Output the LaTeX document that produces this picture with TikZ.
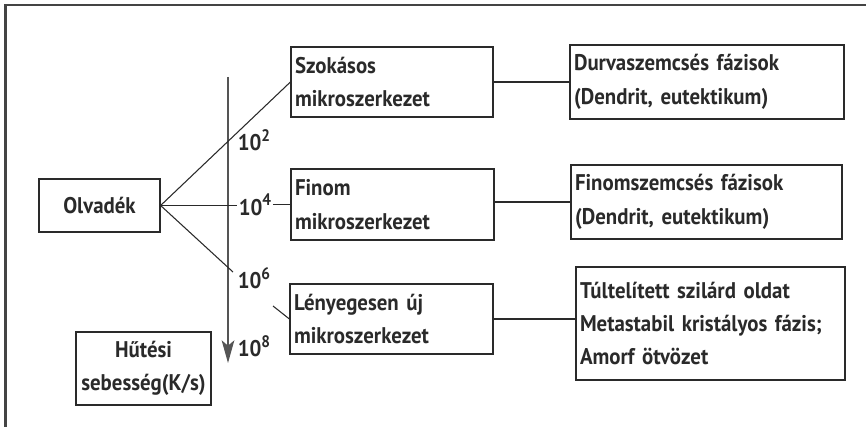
\documentclass[tikz,border=0pt]{standalone}
\usepackage{fontspec}
\setmainfont{PT Sans}[FakeStretch=0.92]
\usetikzlibrary{arrows.meta}
\definecolor{ink}{HTML}{2A2A2A}
\definecolor{axisgray}{HTML}{555555}
\definecolor{framegray}{HTML}{444444}
\newcommand{\expo}[1]{\raisebox{0.42em}{\fontsize{12.5}{12.5}\selectfont #1}}
\tikzset{
  box/.style={draw=ink, line width=0.9pt, rectangle, inner sep=3pt,
    font=\bfseries\fontsize{17}{25}\selectfont, text=ink},
  leftbox/.style={box, align=left},
  midbox/.style={box, align=center},
  rate/.style={inner sep=1pt, font=\bfseries\fontsize{17}{20}\selectfont, text=ink},
  link/.style={draw=ink, line width=0.8pt},
}
\begin{document}
\begin{tikzpicture}[x=0.75pt, y=-0.75pt]
  \useasboundingbox (0,0) rectangle (866,427);

  % page frame: top and left rules only
  \draw[framegray, line width=1.6pt] (5.5,427) -- (5.5,5) -- (866,5);

  % boxes
  \node[midbox, minimum width=90.75pt, minimum height=39.75pt] (olv) at (99.5,205.5) {Olvadék};
  \node[leftbox, minimum width=151.5pt, minimum height=52.5pt, text width=145.5pt] (szok) at (392,82) {Szokásos\\mikroszerkezet};
  \node[leftbox, minimum width=152.25pt, minimum height=53.25pt, text width=146.25pt] (fin) at (392.5,204.5) {Finom\\mikroszerkezet};
  \node[leftbox, minimum width=152.25pt, minimum height=52.5pt, text width=146.25pt] (leny) at (391.5,319) {Lényegesen új\\mikroszerkezet};
  \node[midbox, minimum width=101.25pt, minimum height=54.75pt] (hut) at (143.5,368.5) {Hűtési\\sebesség(K/s)};
  \node[leftbox, minimum width=205.5pt, minimum height=55.5pt, text width=199.5pt] (durva) at (707,82) {Durvaszemcsés fázisok\\(Dendrit, eutektikum)};
  \node[leftbox, minimum width=203.25pt, minimum height=55.5pt, text width=197.25pt] (finsz) at (706.5,202) {Finomszemcsés fázisok\\(Dendrit, eutektikum)};
  \node[leftbox, minimum width=201.75pt, minimum height=84.75pt, text width=195.75pt] (tult) at (710.5,323.5) {Túltelített szilárd oldat\\Metastabil kristályos fázis;\\Amorf ötvözet};

  % cooling-rate axis
  \coordinate (axtop) at (228,77);
  \coordinate (axbot) at (228,363);
  \draw[axisgray, line width=0.9pt, -{Stealth[length=17pt, width=9.5pt, inset=4pt]}] (axtop) -- (axbot);

  % rate labels
  \node[rate] (r2) at (254,140) {10\expo{2}};
  \node[rate] (r4) at (255,205) {10\expo{4}};
  \node[rate] (r6) at (254,278) {10\expo{6}};
  \node[rate] (r8) at (254,346) {10\expo{8}};

  % branches from the melt
  \coordinate (g1) at (233,272);
  \coordinate (g2) at (273,306);
  \draw[link] (olv.east) -- (szok.west);
  \draw[link] (olv.east) -- (olv.east -| r4.west);
  \draw[link] (fin.west -| r4.east) -- (fin.west);
  \draw[link] (olv.east) -- (g1);
  \draw[link] (g2) -- (leny.west);

  % box to outcome links
  \draw[link] (szok.east) -- (durva.west);
  \draw[link] (finsz.west) -- (finsz.west -| fin.east);
  \draw[link] (leny.east) -- (leny.east -| tult.west);
\end{tikzpicture}
\end{document}
